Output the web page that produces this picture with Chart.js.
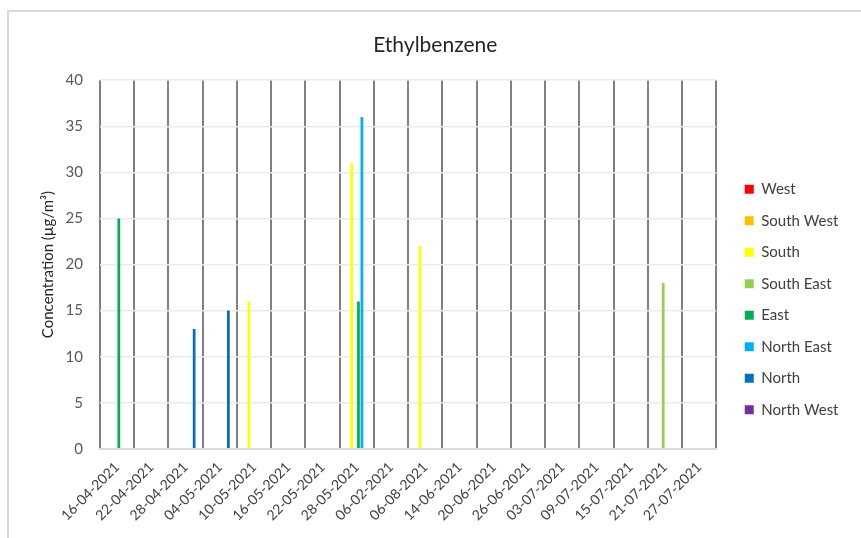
<!DOCTYPE html>
<html>
<head>
<meta charset="utf-8">
<script src="https://cdn.jsdelivr.net/npm/chart.js@4.4.1/dist/chart.umd.min.js"></script>
<style>
  html, body { margin: 0; padding: 0; background: #fff; overflow: hidden; }
  #frame { position: absolute; left: 7px; top: 10px; width: 900px; height: 600px; border: 2px solid #d9d9d9; }
  #wrap { position: absolute; left: 0; top: 0; width: 861px; height: 538px; }
</style>
</head>
<body>
<div id="frame"></div>
<div id="wrap"><canvas id="chart"></canvas></div>
<script>
const labels = ['16-04-2021', '22-04-2021', '28-04-2021', '04-05-2021', '10-05-2021', '16-05-2021',
  '22-05-2021', '28-05-2021', '06-02-2021', '06-08-2021', '14-06-2021', '20-06-2021',
  '26-06-2021', '03-07-2021', '09-07-2021', '15-07-2021', '21-07-2021', '27-07-2021'];

const west      = [null, null, null, null, null, null, null, null, null, null, null, null, null, null, null, null, null, null];
const southWest = [null, null, null, null, null, null, null, null, null, null, null, null, null, null, null, null, null, null];
const south     = [null, null, null, null, 16, null, null, 31, null, 22, null, null, null, null, null, null, null, null];
const southEast = [null, null, null, null, null, null, null, null, null, null, null, null, null, null, null, null, 18, null];
const east      = [25, null, null, null, null, null, null, 16, null, null, null, null, null, null, null, null, null, null];
const northEast = [null, null, null, null, null, null, null, 36, null, null, null, null, null, null, null, null, null, null];
const north     = [null, null, 13, 15, null, null, null, null, null, null, null, null, null, null, null, null, null, null];
const northWest = [null, null, null, null, null, null, null, null, null, null, null, null, null, null, null, null, null, null];

const seriesNames = ['West', 'South West', 'South', 'South East', 'East', 'North East', 'North', 'North West'];
const seriesData = [west, southWest, south, southEast, east, northEast, north, northWest];
const seriesColors = ['#ff0000', '#ffc000', '#ffff00', '#92d050', '#00b050', '#00b0f0', '#0070c0', '#7030a0'];

const yTicks = [0, 5, 10, 15, 20, 25, 30, 35, 40];

const fontFamily = 'Lato, "Liberation Sans", sans-serif';

var datasets = [];
for (var n = 0; n < seriesNames.length; n++) {
  datasets.push({
    label: seriesNames[n],
    data: seriesData[n],
    backgroundColor: seriesColors[n],
    borderWidth: 0,
    barPercentage: 0.8,
    categoryPercentage: 0.8
  });
}

var config = {
  type: 'bar',
  data: {
    labels: labels,
    datasets: datasets
  },
  options: {
    responsive: true,
    maintainAspectRatio: false,
    animation: false,
    layout: {
      padding: { top: 33, left: 22, right: 12.5, bottom: 4 }
    },
    plugins: {
      title: {
        display: true,
        text: 'Ethylbenzene',
        color: '#262626',
        font: { family: fontFamily, size: 21, weight: 'normal' },
        padding: { top: 0, bottom: 22 }
      },
      legend: {
        position: 'right',
        align: 'start',
        // empty legend title, only used to push the entries down
        title: {
          display: true,
          text: '',
          font: { size: 1 },
          padding: { top: 131, bottom: 0 }
        },
        labels: {
          color: '#404040',
          font: { family: fontFamily, size: 15 },
          boxWidth: 9,
          boxHeight: 9,
          padding: 16.5
        }
      },
      tooltip: { enabled: false }
    },
    scales: {
      x: {
        grid: {
          offset: true,
          color: '#808080',
          lineWidth: 2,
          drawTicks: false
        },
        border: { color: '#d9d9d9', width: 2 },
        ticks: {
          color: '#404040',
          font: { family: fontFamily, size: 14 },
          minRotation: 45,
          maxRotation: 45,
          padding: 10,
          autoSkip: false
        }
      },
      y: {
        min: 0,
        max: 40,
        afterBuildTicks: function (axis) {
          axis.ticks = yTicks.map(function (v) { return { value: v }; });
        },
        afterFit: function (scale) {
          scale.width = 78;
        },
        grid: {
          color: '#ebebeb',
          lineWidth: 1.5,
          drawTicks: false
        },
        border: { display: false },
        ticks: {
          color: '#595959',
          font: { family: fontFamily, size: 15 },
          padding: 17
        },
        title: {
          display: true,
          text: 'Concentration (µg/m³)',
          color: '#262626',
          font: { family: fontFamily, size: 15 },
          padding: { top: 17, bottom: 0 }
        }
      },
      // blank axis, keeps a gap between the plot and the legend
      gap: {
        type: 'linear',
        position: 'right',
        grid: { display: false },
        border: { display: false },
        ticks: { display: false },
        afterFit: function (scale) {
          scale.width = 12;
        }
      }
    }
  }
};

new Chart(document.getElementById('chart').getContext('2d'), config);
</script>
</body>
</html>
